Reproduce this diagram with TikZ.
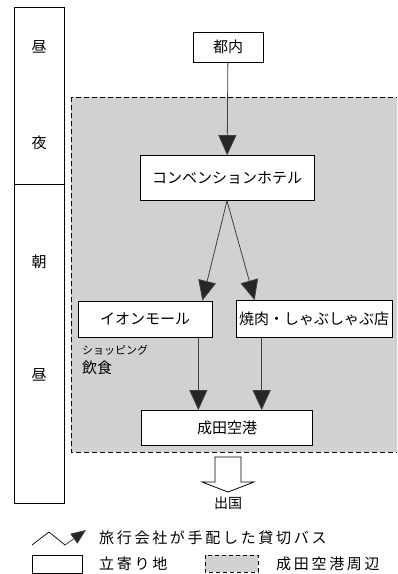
\documentclass[tikz,border=0pt]{standalone}
\usepackage{fontspec}
\usepackage{tikz}
\usetikzlibrary{arrows.meta}
\newfontfamily\jpfont{Noto Sans CJK JP}
\newfontfamily\jplegend[LetterSpace=18]{Noto Sans CJK JP}
\definecolor{area gray}{gray}{0.82}
\definecolor{head gray}{gray}{0.15}
\tikzset{
	spot/.style = {draw, fill=white, line width=0.7pt, inner sep=2pt,
		font=\jpfont\fontsize{15}{18}\selectfont},
	bus/.style = {draw=black!75, line width=0.8pt,
		-{Triangle[length=20pt, width=18pt, fill=head gray]}},
	timelabel/.style = {font=\jpfont\fontsize{15}{18}\selectfont}
}

\begin{document}
\begin{tikzpicture}[x=1pt, y=-1pt]
			\useasboundingbox (0, 0) rectangle (397, 574);
			% area round Narita airport
			\begin{scope}
				\clip (0, 0) rectangle (397, 574);
				\draw[fill=area gray, dashed, dash pattern=on 5pt off 3pt, line width=0.8pt]
					(71, 97) rectangle (405, 452);
			\end{scope}
			% time column
			\draw[line width=0.7pt]
				(14, 7) rectangle (64, 184)
				(14, 184) rectangle (64, 503);
			\node[timelabel] (noon1) at (39, 47) {昼};
			\node[timelabel] (night) at (39, 143) {夜};
			\node[timelabel] (morning) at (39, 262) {朝};
			\node[timelabel] (noon2) at (39, 375) {昼};
			% stops
			\node[spot, minimum width=70pt, minimum height=30pt] (tonai) at (228, 47) {都内};
			\node[spot, minimum width=174pt, minimum height=45pt] (hotel) at (227, 178) {コンベンションホテル};
			\node[spot, minimum width=134pt, minimum height=36pt] (aeon) at (145, 319) {イオンモール};
			\node[spot, minimum width=156pt, minimum height=37pt] (yakiniku) at (314, 319) {焼肉・しゃぶしゃぶ店};
			\node[spot, minimum width=171pt, minimum height=35pt] (narita) at (227, 428) {成田空港};
			\node[anchor=north west, align=left, inner sep=0pt,
				font=\jpfont\fontsize{15}{19}\selectfont] (shopping) at (82, 345)
				{{\fontsize{11}{13}\selectfont ショッピング}\\飲食};
			% bus routes
			\draw[bus] (tonai) -- (hotel);
			\draw[bus] (hotel.south) -- ([xshift=-10pt]aeon.north east);
			\draw[bus] (hotel.south) -- ([xshift=19pt]yakiniku.north west);
			\draw[bus] ([xshift=-14pt]aeon.south east) -- ([xshift=-14pt]aeon.south east |- narita.north);
			\draw[bus] ([xshift=26pt]yakiniku.south west) -- ([xshift=26pt]yakiniku.south west |- narita.north);
			% departure
			\draw[fill=white, line width=0.8pt]
				(215, 457) -- (241, 457) -- (241, 482) -- (254, 482) -- (228, 492)
				-- (202, 482) -- (215, 482) -- cycle;
			\node[font=\jpfont\fontsize{14}{16}\selectfont] (depart) at (228, 503) {出国};
			% legend
			\coordinate (z1) at (32, 545);
			\coordinate (z2) at (49, 532);
			\coordinate (z3) at (65, 545);
			\coordinate (z4) at (86, 530);
			\draw[line width=0.7pt] (z1) -- (z2) -- (z3);
			\draw[bus, -{Triangle[length=15pt, width=12pt, fill=head gray]}] (z3) -- (z4);
			\node[anchor=west, inner sep=0pt, font=\jplegend\fontsize{15}{18}\selectfont]
				(legbus) at (99, 538) {旅行会社が手配した貸切バス};
			\draw[line width=0.6pt] (32, 555) rectangle (82, 573);
			\node[anchor=west, inner sep=0pt, font=\jplegend\fontsize{15}{18}\selectfont]
				(legspot) at (99, 564) {立寄り地};
			\draw[fill=area gray, dashed, dash pattern=on 4pt off 3pt, line width=0.6pt]
				(205, 555) rectangle (258, 572);
			\node[anchor=west, inner sep=0pt, font=\jplegend\fontsize{15}{18}\selectfont]
				(legarea) at (276, 564) {成田空港周辺};
		\end{tikzpicture}
\end{document}
